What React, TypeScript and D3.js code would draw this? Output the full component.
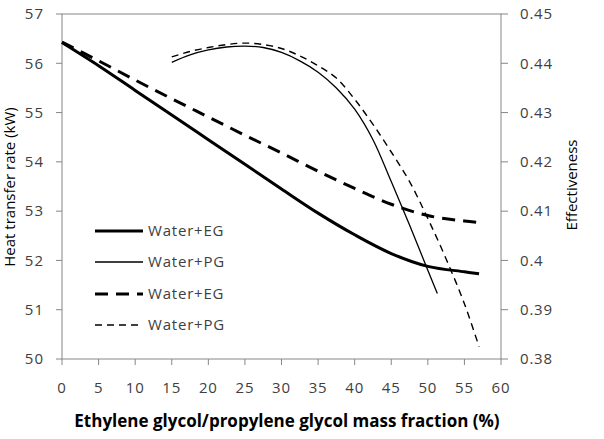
import React from "react";
import * as d3 from "d3";

const xTicks = [0, 5, 10, 15, 20, 25, 30, 35, 40, 45, 50, 55, 60];
const leftTicks = [50, 51, 52, 53, 54, 55, 56, 57];
const rightTicks = [0.38, 0.39, 0.4, 0.41, 0.42, 0.43, 0.44, 0.45];

const egX = [0, 5, 10, 15, 20, 25, 30, 35, 40, 45, 50, 55, 57];
const egHeat = [56.42, 55.95, 55.45, 54.95, 54.45, 53.95, 53.45, 52.96, 52.52, 52.14, 51.88, 51.77, 51.73];
const egEff = [0.4443, 0.4405, 0.4366, 0.4328, 0.4291, 0.4254, 0.4218, 0.4181, 0.4146, 0.4114, 0.4091, 0.408, 0.4077];

const pgHeatX = [15, 17.5, 20, 22.5, 25, 27.5, 30, 32.5, 35, 37.5, 40, 42.5, 45, 47.5, 50, 51.3];
const pgHeat = [56.02, 56.17, 56.27, 56.33, 56.35, 56.32, 56.22, 56.05, 55.82, 55.5, 55.07, 54.45, 53.6, 52.72, 51.8, 51.33];

const pgEffX = [15, 17.5, 20, 22.5, 25, 27.5, 30, 32.5, 35, 37.5, 40, 42.5, 45, 47.5, 50, 52.5, 55, 57];
const pgEff = [0.4413, 0.4424, 0.4432, 0.4438, 0.4441, 0.4438, 0.443, 0.4415, 0.4395, 0.437, 0.4327, 0.4276, 0.422, 0.416, 0.4085, 0.4003, 0.3912, 0.3825];

const legendLabels = ["Water+EG", "Water+PG", "Water+EG", "Water+PG"];

const W = 604, H = 439;
const L = 62, R = 501, T = 14, B = 359;
const axisColor = "#868686";
const textColor = "#404040";
const font = "'Open Sans', sans-serif";

export default function App() {
  const x = d3.scaleLinear().domain([0, 60]).range([L, R]);
  const yL = d3.scaleLinear().domain([50, 57]).range([B, T]);
  const yR = d3.scaleLinear().domain([0.38, 0.45]).range([B, T]);

  const mk = (xs: number[], ys: number[], ys2: d3.ScaleLinear<number, number>) =>
    d3.line<number>().x((_, i) => x(xs[i])).y((v) => ys2(v)).curve(d3.curveCatmullRom.alpha(0.5))(ys) || "";

  const series = [
    { d: mk(egX, egHeat, yL), w: 3, dash: "" },
    { d: mk(pgHeatX, pgHeat, yL), w: 1.3, dash: "" },
    { d: mk(egX, egEff, yR), w: 3, dash: "13,8" },
    { d: mk(pgEffX, pgEff, yR), w: 1.4, dash: "7,5" },
  ];
  const legendY = [231, 262, 294, 325];

  return (
    <svg width={W} height={H} style={{ position: "absolute", left: 0, top: 0, background: "#fff" }}>
      <rect x={0} y={0} width={W} height={H} fill="#fff" />
      <rect x={L} y={T} width={R - L} height={B - T} fill="none" stroke={axisColor} strokeWidth={1} />
      {leftTicks.map((t) => (
        <g key={"l" + t}>
          <line x1={L - 6} x2={L} y1={yL(t)} y2={yL(t)} stroke={axisColor} />
          <text x={44} y={yL(t)} dy="0.35em" textAnchor="end" fontFamily={font} fontSize={15} fill={textColor} letterSpacing={1}>
            {t}
          </text>
        </g>
      ))}
      {rightTicks.map((t) => (
        <g key={"r" + t}>
          <line x1={R} x2={R + 7} y1={yR(t)} y2={yR(t)} stroke={axisColor} />
          <text x={520} y={yR(t)} dy="0.35em" textAnchor="start" fontFamily={font} fontSize={15} fill={textColor} letterSpacing={0.8}>
            {String(+t.toFixed(2))}
          </text>
        </g>
      ))}
      {xTicks.map((t) => (
        <g key={"x" + t}>
          <line x1={x(t)} x2={x(t)} y1={B} y2={B + 6} stroke={axisColor} />
          <text x={x(t)} y={393} textAnchor="middle" fontFamily={font} fontSize={15} fill={textColor} letterSpacing={0.8}>
            {t}
          </text>
        </g>
      ))}
      {series.map((s, i) => (
        <path key={i} d={s.d} fill="none" stroke="#000" strokeWidth={s.w} strokeDasharray={s.dash || undefined} />
      ))}
      {series.map((s, i) => (
        <g key={"lg" + i}>
          <line x1={95} x2={143} y1={legendY[i]} y2={legendY[i]} stroke="#000" strokeWidth={s.w} strokeDasharray={s.dash || undefined} />
          <text x={148} y={legendY[i]} dy="0.35em" fontFamily={font} fontSize={15} fill={textColor} letterSpacing={0.8}>
            {legendLabels[i]}
          </text>
        </g>
      ))}
      <text x={287} y={427} textAnchor="middle" fontFamily={font} fontSize={17} fontWeight="bold" fill="#000">
        Ethylene glycol/propylene glycol mass fraction (%)
      </text>
      <text transform={`translate(15,187) rotate(-90)`} textAnchor="middle" fontFamily={font} fontSize={15} fill="#000">
        Heat transfer rate (kW)
      </text>
      <text transform={`translate(577,185) rotate(-90)`} textAnchor="middle" fontFamily={font} fontSize={15} fill="#000">
        Effectiveness
      </text>
    </svg>
  );
}
